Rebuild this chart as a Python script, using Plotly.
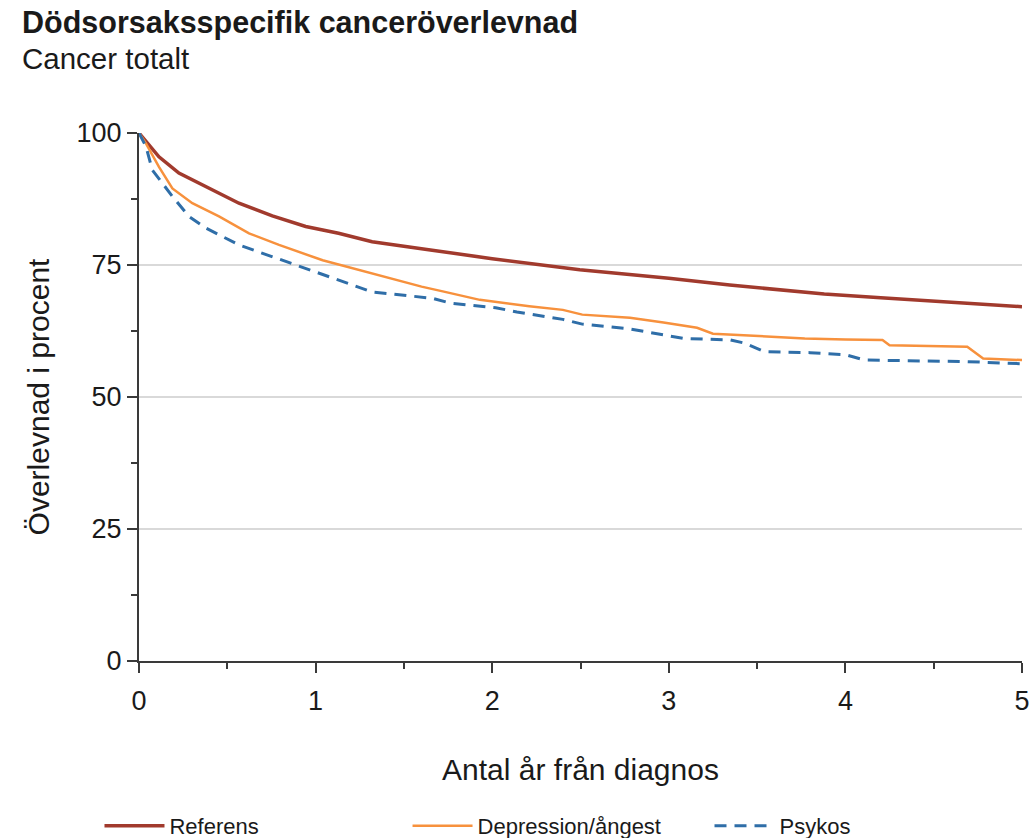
import plotly.graph_objects as go

# Data (years from diagnosis, survival in percent)
ref_x = [0, 0.113, 0.226, 0.378, 0.566, 0.755, 0.944, 1.13, 1.32, 1.66, 2.0, 2.496, 3.0, 3.345, 3.88, 4.2, 4.5, 5.0]
ref_y = [100, 95.5, 92.4, 89.8, 86.7, 84.3, 82.3, 81.0, 79.4, 77.8, 76.2, 74.1, 72.5, 71.2, 69.5, 68.8, 68.2, 67.1]

dep_x = [0, 0.04, 0.113, 0.189, 0.302, 0.453, 0.623, 0.793, 1.04, 1.32, 1.6, 1.72, 1.93, 2.21, 2.40, 2.51, 2.78, 2.97, 3.16, 3.25, 3.5, 3.77, 4.0, 4.21, 4.25, 4.5, 4.69, 4.78, 5.0]
dep_y = [100, 98.0, 93.6, 89.5, 86.7, 84.2, 81.0, 78.8, 75.9, 73.4, 70.9, 70.0, 68.4, 67.2, 66.5, 65.6, 65.0, 64.1, 63.1, 62.0, 61.5, 61.1, 60.9, 60.8, 59.8, 59.6, 59.5, 57.3, 57.0]

psy_x = [0, 0.04, 0.075, 0.132, 0.189, 0.283, 0.378, 0.566, 0.755, 0.944, 1.13, 1.32, 1.66, 1.76, 2.02, 2.14, 2.40, 2.51, 2.78, 2.93, 3.08, 3.35, 3.43, 3.54, 3.8, 4.0, 4.11, 4.69, 4.96, 5.0]
psy_y = [100, 97.4, 93.0, 90.5, 88.0, 84.2, 82.0, 78.8, 76.6, 74.4, 72.2, 69.9, 68.7, 67.8, 66.9, 66.1, 64.7, 63.8, 62.9, 62.0, 61.1, 60.8, 60.2, 58.6, 58.4, 58.0, 57.0, 56.7, 56.4, 56.3]

series_names = ["Referens", "Depression/ångest", "Psykos"]
x_ticks = [0, 1, 2, 3, 4, 5]
y_ticks = [0, 25, 50, 75, 100]

FONT = "Liberation Sans, Arial, sans-serif"
AX = "#3a3a3a"
TXT = "#1a1a1a"

fig = go.Figure()
fig.add_trace(go.Scatter(x=ref_x, y=ref_y, mode="lines", name=series_names[0], legend="legend",
                         line=dict(color="#A13A2D", width=3.5)))
fig.add_trace(go.Scatter(x=dep_x, y=dep_y, mode="lines", name=series_names[1], legend="legend2",
                         line=dict(color="#F7913D", width=2.5)))
fig.add_trace(go.Scatter(x=psy_x, y=psy_y, mode="lines", name=series_names[2], legend="legend3",
                         line=dict(color="#2F6EA8", width=3, dash="12px,8px")))

def leg(xpos):
    return dict(orientation="h", xref="container", yref="container",
                x=xpos, xanchor="left", y=0.0143, yanchor="middle",
                font=dict(size=22, family=FONT, color=TXT),
                itemwidth=60, bgcolor="rgba(0,0,0,0)")

fig.update_layout(
    width=1032, height=838,
    paper_bgcolor="white", plot_bgcolor="white",
    margin=dict(l=139, r=10, t=133, b=177, autoexpand=False),
    font=dict(family=FONT, color=TXT, size=20),
    showlegend=True,
    legend=leg(0.0964),
    legend2=leg(0.3949),
    legend3=leg(0.6875),
    annotations=[
        dict(text="<b>Dödsorsaksspecifik canceröverlevnad</b>", xref="paper", yref="paper",
             x=-0.1348, y=1.210, xanchor="left", yanchor="middle", showarrow=False,
             font=dict(size=30.5, family=FONT, color=TXT)),
        dict(text="Cancer totalt", xref="paper", yref="paper",
             x=-0.1348, y=1.142, xanchor="left", yanchor="middle", showarrow=False,
             font=dict(size=29.5, family=FONT, color=TXT)),
    ],
)

fig.update_xaxes(range=[0, 5], tickvals=x_ticks, showgrid=False, zeroline=False, automargin=False,
                 showline=True, linecolor=AX, linewidth=2,
                 ticks="outside", ticklen=10, tickcolor=AX, tickwidth=2, ticklabelstandoff=5,
                 minor=dict(ticks="outside", dtick=0.5, ticklen=6, tickcolor=AX, tickwidth=2, showgrid=False),
                 tickfont=dict(size=27), title=dict(text="Antal år från diagnos", font=dict(size=30), standoff=44))
fig.update_yaxes(range=[0, 100], tickvals=y_ticks, showgrid=True, gridcolor="#D9D9D9", gridwidth=1.5,
                 zeroline=False, automargin=False, showline=True, linecolor=AX, linewidth=2,
                 ticks="outside", ticklen=10, tickcolor=AX, tickwidth=2,
                 minor=dict(ticks="outside", dtick=12.5, ticklen=6, tickcolor=AX, tickwidth=2, showgrid=False),
                 tickfont=dict(size=27), title=dict(text="Överlevnad i procent", font=dict(size=30), standoff=18))

fig.write_html("out.html", config={"displayModeBar": False},
               post_script="document.body.style.margin='0';document.body.style.overflow='hidden';")
